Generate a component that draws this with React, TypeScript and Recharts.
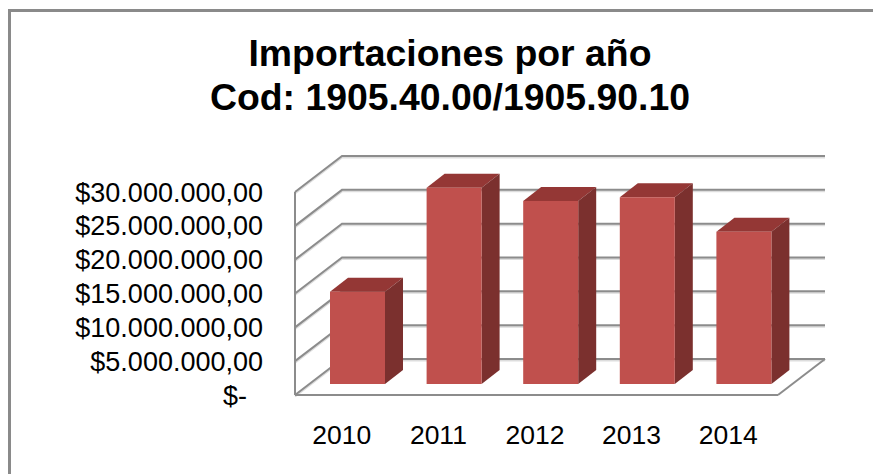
import { BarChart, Bar, XAxis, YAxis, CartesianGrid } from 'recharts';

const years = ['2010', '2011', '2012', '2013', '2014'];
const imports = [13640000, 29000000, 27050000, 27600000, 22500000];
const yTicks = [0, 5000000, 10000000, 15000000, 20000000, 25000000, 30000000];

const data = years.map((year, i) => ({ year, value: imports[i] }));

const FONT = '"Liberation Sans", Arial, sans-serif';
const GRID = '#8c8c8c';

function formatMoney(v: number) {
  if (v === 0) return '$-';
  return '$' + String(v).replace(/\B(?=(\d{3})+$)/g, '.') + ',00';
}

// wall and floor depth of the fake 3D box
const WALL_DX = 47;
const WALL_DY = 36;

function GridLine({ x1, x2, y1, index }: any) {
  const backY = y1 - WALL_DY;
  const isFloor = y1 > 390;
  const pts = `${x1},${y1} ${x1 + WALL_DX},${backY} ${x2 + WALL_DX},${backY}`;
  return (
    <g key={index} fill="none">
      <polyline points={pts} stroke="#dddddd" strokeWidth={2} transform="translate(0,1.5)" />
      <polyline points={pts} stroke={GRID} strokeWidth={2} />
      {isFloor && <line x1={x2} y1={y1} x2={x2 + WALL_DX} y2={backY} stroke={GRID} strokeWidth={2} />}
    </g>
  );
}

function Bar3D({ x, y, width, height }: any) {
  // bars stand in the middle of the floor, box depth is smaller than the walls
  const left = x + 14;
  const right = left + width;
  const top = y - 11;
  const bottom = top + height;
  const dx = 18;
  const dy = 14;
  return (
    <g>
      <polygon points={`${left},${top} ${left + dx},${top - dy} ${right + dx},${top - dy} ${right},${top}`} fill="#943735" />
      <polygon points={`${right},${top} ${right + dx},${top - dy} ${right + dx},${bottom - dy} ${right},${bottom}`} fill="#7b302e" />
      <rect x={left} y={top} width={width} height={height} fill="#c0504d" />
    </g>
  );
}

function YTick({ x, y, payload }: any) {
  return (
    <text x={payload.value === 0 ? x - 16 : x} y={y} dy={9.5} textAnchor="end" fontSize={27} fontFamily={FONT} fill="#000">
      {formatMoney(payload.value)}
    </text>
  );
}

export default function App() {
  return (
    <div style={{ position: 'absolute', left: 0, top: 0, width: 873, height: 474, background: '#fff', overflow: 'hidden' }}>
      <div style={{ position: 'absolute', left: 8, top: 9, width: 900, height: 500, border: '3px solid #8a8a8a' }} />
      <div
        style={{
          position: 'absolute', left: 0, top: 31, width: 900, textAlign: 'center', fontFamily: FONT,
          fontWeight: 'bold', fontSize: 37.4, lineHeight: '44px', color: '#000',
        }}
      >
        <div>Importaciones por año</div>
        <div>Cod: 1905.40.00/1905.90.10</div>
      </div>
      <div style={{ position: 'absolute', left: 0, top: 0 }}>
        <BarChart
          width={873}
          height={474}
          data={data}
          barSize={55}
          margin={{ top: 192, right: 95, bottom: 19, left: 95 }}
        >
          <CartesianGrid vertical={false} horizontal={(p: any) => <GridLine {...p} />} />
          <XAxis
            dataKey="year"
            height={60}
            tickLine={false}
            axisLine={{ stroke: GRID, strokeWidth: 2 }}
            tick={{ fontSize: 26.5, fontFamily: FONT, fill: '#000', dx: -1.5 }}
            tickMargin={24}
          />
          <YAxis
            width={200}
            domain={[0, 30000000]}
            ticks={yTicks}
            interval={0}
            tickLine={false}
            tickSize={0}
            tickMargin={32}
            axisLine={{ stroke: GRID, strokeWidth: 2 }}
            tick={<YTick />}
          />
          <Bar dataKey="value" isAnimationActive={false} shape={<Bar3D />} />
        </BarChart>
      </div>
    </div>
  );
}
